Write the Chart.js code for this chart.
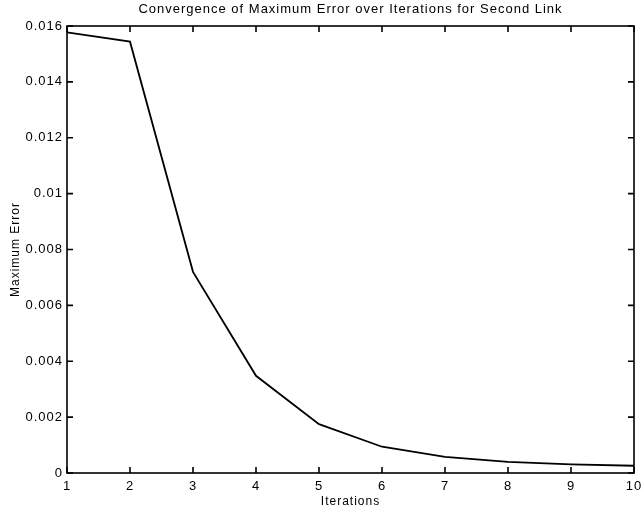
<!DOCTYPE html>
<html>
<head>
<meta charset="utf-8">
<script src="https://cdn.jsdelivr.net/npm/chart.js@4"></script>
<style>
  html, body { margin: 0; padding: 0; background: #fff; }
  #wrap { width: 641px; height: 512px; }
</style>
</head>
<body>
<div id="wrap"><canvas id="c" width="641" height="512"></canvas></div>
<script>
const iterations = [1, 2, 3, 4, 5, 6, 7, 8, 9, 10];
const maxError = [0.01577, 0.01544, 0.00720, 0.00348, 0.00175, 0.00094, 0.00058, 0.00040, 0.00031, 0.00026];
const xTicks = [1, 2, 3, 4, 5, 6, 7, 8, 9, 10];
const yTicks = [0, 0.002, 0.004, 0.006, 0.008, 0.01, 0.012, 0.014, 0.016];

const FONT = '"Liberation Sans", Arial, Helvetica, sans-serif';
const SPACING = '1px';

const spacingPlugin = {
  id: 'spacing',
  beforeUpdate(chart) { chart.ctx.letterSpacing = SPACING; },
  beforeLayout(chart) { chart.ctx.letterSpacing = SPACING; },
  beforeDraw(chart) { chart.ctx.letterSpacing = SPACING; }
};

const boxPlugin = {
  id: 'matlabBox',
  afterDraw(chart) {
    const { ctx, chartArea: a, scales } = chart;
    const xs = scales.x, ys = scales.y;
    const L = 6;
    ctx.save();
    ctx.strokeStyle = '#000';
    ctx.lineWidth = 1.6;
    ctx.strokeRect(a.left, a.top, a.right - a.left, a.bottom - a.top);
    ctx.beginPath();
    xTicks.forEach(v => {
      const px = xs.getPixelForValue(v);
      ctx.moveTo(px, a.bottom); ctx.lineTo(px, a.bottom - L);
      ctx.moveTo(px, a.top); ctx.lineTo(px, a.top + L);
    });
    yTicks.forEach(v => {
      const py = ys.getPixelForValue(v);
      ctx.moveTo(a.left, py); ctx.lineTo(a.left + L, py);
      ctx.moveTo(a.right, py); ctx.lineTo(a.right - L, py);
    });
    ctx.stroke();
    ctx.restore();
  }
};

new Chart(document.getElementById('c'), {
  type: 'line',
  data: {
    datasets: [{
      data: iterations.map((x, i) => ({ x: x, y: maxError[i] })),
      borderColor: '#000',
      borderWidth: 1.8,
      pointRadius: 0,
      tension: 0,
      fill: false
    }]
  },
  options: {
    responsive: false,
    animation: false,
    devicePixelRatio: 1,
    layout: { padding: { left: 0, right: 7, top: 0, bottom: 0 } },
    plugins: {
      legend: { display: false },
      tooltip: { enabled: false },
      title: {
        display: true,
        fullSize: false,
        text: 'Convergence of Maximum Error over Iterations for Second Link',
        color: '#000',
        font: { family: FONT, size: 13, weight: 'normal' },
        padding: { top: 2, bottom: 8.4 }
      }
    },
    scales: {
      x: {
        type: 'linear',
        min: 1, max: 10,
        afterBuildTicks(s) { s.ticks = xTicks.map(v => ({ value: v })); },
        afterFit(s) { s.height = 39; s.paddingLeft = 0; s.paddingRight = 0; },
        grid: { display: false, drawTicks: false },
        border: { display: false },
        ticks: {
          color: '#000',
          padding: 6,
          maxRotation: 0,
          autoSkip: false,
          font: { family: FONT, size: 13 },
          callback: v => String(v)
        },
        title: {
          display: true,
          text: 'Iterations',
          color: '#000',
          font: { family: FONT, size: 12 },
          padding: { top: 0, bottom: 2.8 }
        }
      },
      y: {
        type: 'linear',
        min: 0, max: 0.016,
        afterBuildTicks(s) { s.ticks = yTicks.map(v => ({ value: v })); },
        afterFit(s) { s.width = 67; s.paddingTop = 0; s.paddingBottom = 0; },
        grid: { display: false, drawTicks: false },
        border: { display: false },
        ticks: {
          color: '#000',
          padding: 4,
          autoSkip: false,
          font: { family: FONT, size: 13 },
          callback: v => String(parseFloat(Number(v).toFixed(3)))
        },
        title: {
          display: true,
          text: 'Maximum Error',
          color: '#000',
          font: { family: FONT, size: 12 },
          padding: { top: 8.8, bottom: 0 }
        }
      }
    }
  },
  plugins: [spacingPlugin, boxPlugin]
});
</script>
</body>
</html>
